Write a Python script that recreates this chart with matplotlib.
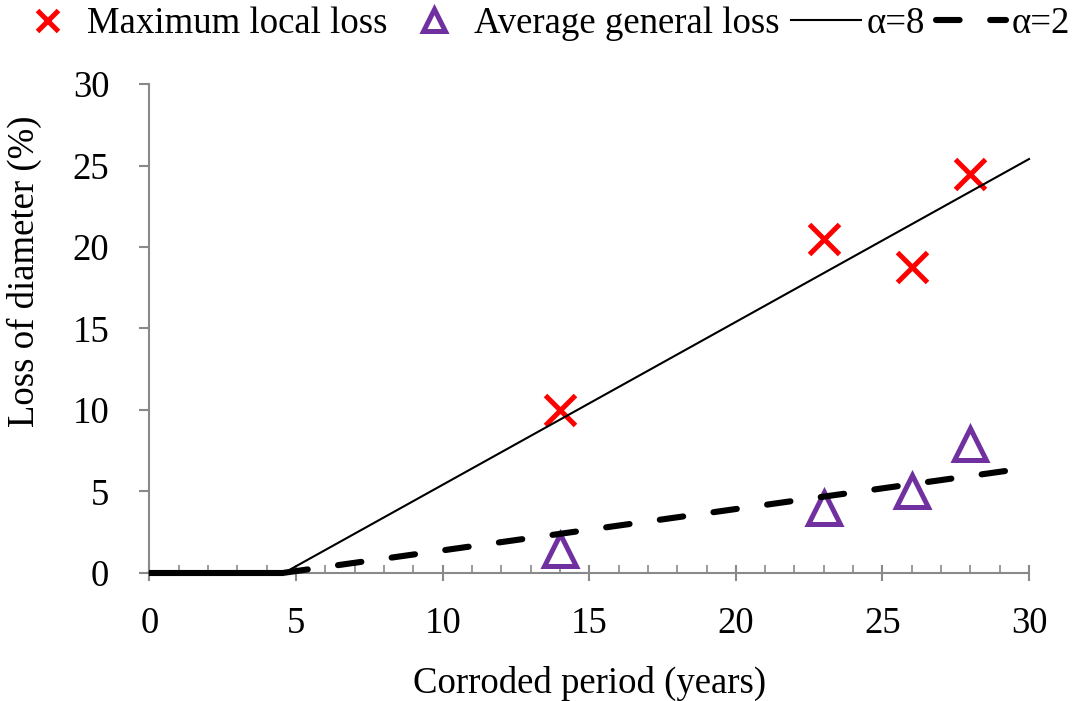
import matplotlib
matplotlib.use('Agg')
import matplotlib.pyplot as plt
from matplotlib.ticker import MultipleLocator

plt.rcParams['font.family'] = ['Liberation Serif', 'DejaVu Serif']
plt.rcParams['lines.scale_dashes'] = False

# measured corrosion losses
periodYears = [14, 23, 26, 28]
maxLocalLoss = [10.0, 20.5, 18.8, 24.5]
avgGeneralLoss = [1.4, 4.0, 5.0, 7.9]

# model curves: no loss until initiation (~4.6 years), then linear growth
initYears = [0, 4.6]
initLoss = [0, 0]
growthYears = [4.6, 30]
alpha8Growth = [0, 25.4]
alpha2Growth = [0, 6.45]

axisGray = '#898989'
fontSize = 26.5

fig = plt.figure(figsize=(10.88, 7.01), dpi=100)
ax = fig.add_axes([0.1374, 0.183, 0.8084, 0.697])

maxPts = ax.plot(periodYears, maxLocalLoss, linestyle='none', marker='x', color='#ff0000',
                 markersize=21, markeredgewidth=3.6, zorder=2, label='Maximum local loss')[0]
avgPts = ax.plot(periodYears, avgGeneralLoss, linestyle='none', marker='^', color='#7030a0',
                 markerfacecolor='none', markersize=23, markeredgewidth=3.6, zorder=2,
                 label='Average general loss')[0]

a8Line = ax.plot(initYears + growthYears[1:], initLoss + alpha8Growth[1:], color='black',
                 linewidth=1.5, zorder=3, clip_on=False, label='α=8')[0]
# flat initiation part of the α=2 curve is drawn solid, the growth part dashed
ax.plot(initYears, initLoss, color='black', linewidth=4.4, solid_capstyle='butt',
        zorder=3, clip_on=False)
a2Line = ax.plot(growthYears, alpha2Growth, color='black', linewidth=4.4, zorder=3,
                 linestyle=(0, (17, 22)), dash_capstyle='round', clip_on=False,
                 label='α=2')[0]

ax.set_xlim(0, 30)
ax.set_ylim(0, 30)
ax.xaxis.set_major_locator(MultipleLocator(5))
ax.xaxis.set_minor_locator(MultipleLocator(1))
ax.yaxis.set_major_locator(MultipleLocator(5))

for side in ['top', 'right']:
    ax.spines[side].set_visible(False)
for side in ['left', 'bottom']:
    ax.spines[side].set_color(axisGray)
    ax.spines[side].set_linewidth(1.5)

ax.tick_params(axis='x', which='major', direction='inout', length=12, width=1.5,
               color=axisGray, labelsize=fontSize, pad=18)
ax.tick_params(axis='x', which='minor', direction='in', length=6, width=1.2, color=axisGray)
ax.tick_params(axis='y', which='major', direction='out', length=7, width=1.5,
               color=axisGray, labelsize=fontSize, pad=22)

ax.set_xlabel('Corroded period (years)', fontsize=fontSize, labelpad=18)
ax.set_ylabel('Loss of diameter (%)', fontsize=fontSize)
ax.yaxis.set_label_coords(-0.122, 0.618)

fig.legend(handles=[maxPts, avgPts, a8Line, a2Line], loc='center',
           bbox_to_anchor=(0.497, 1 - 24 / 701), ncol=4, frameon=False, fontsize=fontSize,
           handlelength=1.9, handletextpad=0.15, columnspacing=0.3, markerscale=0.72,
           borderaxespad=0, borderpad=0)

fig.savefig('out.png', dpi=100)
